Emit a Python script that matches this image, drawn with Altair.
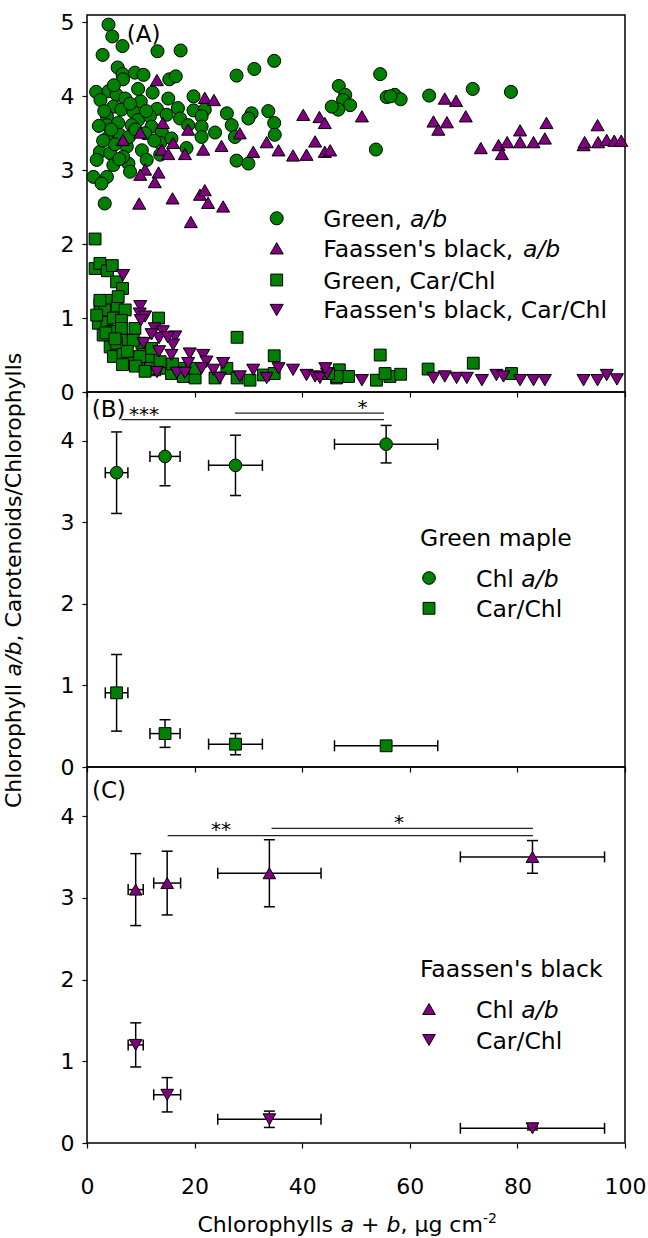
import altair as alt
import pandas as pd

FONT = "DejaVu Sans"
GREEN = "#008000"
PURPLE = "#800080"

# ---------------- Panel A: individual leaves ----------------
green_ab_x = [4.0, 4.7, 6.6, 2.9, 13.1, 17.4, 5.7, 6.6, 8.9, 10.5, 6.7, 15.3, 16.5, 27.8, 31.1, 34.8,
              1.7, 4.0, 5.5, 7.1, 10.0, 12.2, 15.1, 19.8, 4.9, 6.4, 8.6, 13.0, 16.9, 19.8, 21.9, 26.0,
              30.6, 33.7, 3.7, 9.5, 11.7, 14.8, 17.3, 21.3, 30.0, 34.8, 26.9, 3.7, 5.8, 8.3, 12.0, 18.8,
              21.3, 3.7, 6.1, 10.8, 13.9, 21.3, 23.8, 27.5, 34.9, 2.4, 4.3, 7.4, 10.2, 13.6, 15.7, 18.5,
              1.8, 4.9, 7.7, 11.1, 27.8, 30.0, 1.2, 3.7, 2.7, 3.3, 6.7, 8.0, 13.6,
              2.5, 3.2, 4.5, 5.2, 6.0, 7.8, 9.0, 2.2, 3.0, 5.0, 8.0, 9.5, 11.0, 12.5,
              46.8, 48.0, 47.6, 48.9, 46.7, 45.5, 54.5, 55.7, 57.2, 58.3, 56.4, 63.6, 71.7, 78.8, 53.7]
green_ab_y = [4.97, 4.81, 4.68, 4.56, 4.61, 4.62, 4.39, 4.30, 4.32, 4.29, 4.23, 4.23, 4.27, 4.28, 4.37, 4.48,
              4.06, 4.07, 4.02, 3.97, 3.93, 4.05, 3.97, 4.00, 3.86, 3.82, 3.79, 3.83, 3.84, 3.81, 3.82, 3.77,
              3.77, 3.80, 3.73, 3.68, 3.73, 3.75, 3.70, 3.73, 3.70, 3.64, 3.61, 3.61, 3.64, 3.61, 3.59, 3.61,
              3.59, 3.43, 3.48, 3.50, 3.52, 3.45, 3.51, 3.45, 3.48, 3.25, 3.23, 3.32, 3.27, 3.37, 3.43, 3.30,
              3.14, 3.07, 3.09, 3.14, 3.13, 3.09, 2.91, 2.91, 2.82, 2.55, 3.18, 2.98, 3.21,
              3.95, 3.80, 3.55, 3.35, 3.15, 3.45, 3.55, 3.60, 3.40, 4.15, 3.90, 4.10, 3.80, 3.40,
              4.14, 4.02, 3.95, 3.88, 3.82, 3.86, 4.30, 3.99, 4.02, 3.96, 4.00, 4.01, 4.10, 4.06, 3.28]

black_ab_x = [13.0, 21.9, 23.6, 14.1, 18.8, 28.4, 6.7, 9.9, 16.0, 25.0, 13.9, 15.1, 18.2, 21.6, 30.9, 33.4,
              35.6, 40.2, 43.2, 44.2, 38.3, 40.8, 42.4, 44.2, 45.2, 10.8, 9.9, 13.3, 12.6, 15.9, 21.0, 21.9,
              22.5, 25.3, 9.7, 19.3,
              51.1, 66.5, 68.6, 70.4, 64.4, 66.9, 65.3, 73.2, 76.5, 77.1, 78.1, 80.5, 80.5, 83.0, 85.1, 85.4,
              92.3, 92.5, 94.9, 95.0, 96.6, 98.0, 99.3]
black_ab_y = [4.22, 3.98, 3.95, 3.64, 3.55, 3.50, 3.41, 3.51, 3.37, 3.33, 3.28, 3.22, 3.22, 3.28, 3.25, 3.38,
              3.27, 3.75, 3.72, 3.64, 3.20, 3.21, 3.39, 3.25, 3.27, 3.01, 2.94, 2.97, 2.84, 2.62, 2.67, 2.73,
              2.56, 2.51, 2.55, 2.30,
              3.73, 3.97, 3.94, 3.73, 3.66, 3.65, 3.55, 3.30, 3.34, 3.22, 3.38, 3.54, 3.38, 3.38, 3.43, 3.64,
              3.34, 3.38, 3.61, 3.38, 3.41, 3.40, 3.40]

green_car_x = [1.5, 1.5, 2.4, 3.8, 4.7, 5.5, 6.6, 2.4, 4.1, 5.6, 7.1, 3.3, 2.1, 3.7, 4.9, 6.4, 13.3, 3.0,
               4.6, 6.4, 8.9, 7.4, 4.3, 5.5, 10.2, 4.9, 6.7, 8.3, 6.6, 10.5, 11.4, 12.0, 12.6, 14.8, 15.7,
               17.3, 17.9, 20.1, 20.1, 23.8, 26.0, 27.9, 27.9, 30.3, 32.8, 34.8, 34.8, 46.4, 5.8, 1.8, 2.4,
               8.6, 9.8, 11.8, 13.6, 15.9, 7.5, 9.0, 3.5, 5.2, 10.8,
               54.5, 71.8, 63.4, 46.9, 48.6, 46.5, 53.8, 56.3, 58.3, 55.4, 78.9, 44.9]
green_car_y = [2.07, 1.67, 1.74, 1.64, 1.71, 1.49, 1.40, 1.18, 1.24, 1.16, 1.11, 1.11, 0.93, 0.94, 1.00, 0.97,
               1.00, 0.77, 0.82, 0.86, 0.86, 0.70, 0.61, 0.66, 0.66, 0.48, 0.51, 0.41, 0.37, 0.51, 0.43, 0.59,
               0.30, 0.32, 0.25, 0.32, 0.21, 0.19, 0.32, 0.19, 0.32, 0.74, 0.19, 0.16, 0.23, 0.49, 0.25, 0.19,
               1.29, 1.04, 1.24, 0.70, 0.48, 0.32, 0.41, 0.38, 0.55, 0.35, 0.80, 0.72, 0.28,
               0.50, 0.39, 0.31, 0.30, 0.21, 0.21, 0.16, 0.21, 0.24, 0.25, 0.25, 0.25]

black_car_x = [6.7, 9.9, 9.8, 10.8, 10.0, 12.6, 14.1, 13.4, 16.4, 10.5, 16.0, 13.4, 19.1, 15.7, 21.6, 22.2,
               18.8, 25.3, 13.0, 16.7, 18.2, 21.3, 23.5, 24.7, 28.4, 30.9, 33.4, 35.6, 38.3, 40.8, 42.4,
               43.3, 44.6, 44.3, 12.0, 15.0,
               51.1, 64.4, 66.5, 68.7, 70.6, 73.4, 76.1, 77.4, 80.5, 83.0, 85.1, 92.3, 94.9, 96.6, 98.5]
black_car_y = [1.58, 1.16, 1.06, 1.02, 0.97, 0.86, 0.82, 0.73, 0.75, 0.66, 0.64, 0.55, 0.52, 0.50, 0.50, 0.41,
               0.39, 0.39, 0.27, 0.26, 0.26, 0.32, 0.30, 0.19, 0.21, 0.30, 0.19, 0.32, 0.30, 0.23, 0.21,
               0.19, 0.25, 0.32, 0.78, 0.74,
               0.16, 0.19, 0.21, 0.19, 0.19, 0.16, 0.23, 0.21, 0.16, 0.16, 0.16, 0.16, 0.16, 0.23, 0.17]

# ---------------- Panel B: green maple, class means ----------------
b_x = [5.5, 14.5, 27.6, 55.6]
b_xerr = [2.1, 2.8, 5.0, 9.6]
b_ab = [3.61, 3.81, 3.70, 3.96]
b_ab_err = [0.50, 0.36, 0.37, 0.23]
b_car = [0.91, 0.41, 0.28, 0.26]
b_car_err = [0.47, 0.17, 0.13, 0.03]
b_sig_from = [6.4, 27.5]
b_sig_to = [55.2, 55.2]
b_sig_y = [4.26, 4.34]
b_star_x = [10.6, 51.2]
b_star_y = [4.24, 4.33]
b_star_text = ["***", "*"]

# ---------------- Panel C: Faassen's black, class means ----------------
c_x = [9.05, 14.9, 33.9, 82.8]
c_xerr = [1.4, 2.5, 9.6, 13.4]
c_ab = [3.10, 3.18, 3.30, 3.50]
c_ab_err = [0.44, 0.39, 0.41, 0.20]
c_car = [1.20, 0.59, 0.29, 0.18]
c_car_err = [0.27, 0.21, 0.10, 0.02]
c_sig_from = [15.0, 34.3]
c_sig_to = [82.9, 82.9]
c_sig_y = [3.76, 3.85]
c_star_x = [24.9, 58.0]
c_star_y = [3.76, 3.84]
c_star_text = ["**", "*"]

x_ticks = [0, 20, 40, 60, 80, 100]

# ---------------- layout helpers ----------------
W = 538
HA, HB, HC = 377, 375, 376
ONE = pd.DataFrame({"v": [0]})

DV = {' ': 318, "'": 275, '(': 390, ')': 390, '*': 500, '+': 838, ',': 318, '-': 361, '/': 337,
      'A': 684, 'B': 686, 'C': 698, 'F': 575, 'G': 775,
      'a': 613, 'b': 635, 'c': 550, 'd': 635, 'e': 615, 'g': 635, 'h': 634, 'i': 278, 'k': 579,
      'l': 278, 'm': 974, 'n': 634, 'o': 612, 'p': 635, 'r': 411, 's': 521, 't': 392, 'y': 592,
      'μ': 636}


def tw(s, size):
    return sum(DV.get(ch, 636) for ch in s) / 1000.0 * size


def rich(segments, x, y, size, angle=0):
    """Mixed-style text: each segment drawn as its own text mark, placed one after another."""
    out = []
    off = 0.0
    for seg in segments:
        text, style = seg[0], seg[1]
        sz = seg[2] if len(seg) > 2 else size
        rise = seg[3] if len(seg) > 3 else 0
        core = text.strip(" ")
        lead = len(text) - len(text.lstrip(" "))
        if core:
            o = off + tw(" " * lead, sz)
            if angle == 0:
                px, py = x + o, y - rise
            else:
                px, py = x - rise, y - o
            out.append(alt.Chart(ONE).mark_text(text=core, font=FONT, fontSize=sz, fontStyle=style,
                                                align="left", baseline="alphabetic", angle=angle,
                                                color="black")
                       .encode(x=alt.value(px), y=alt.value(py)))
        off += tw(text, sz)
    return out


def marker(px, py, shape, color, size):
    return alt.Chart(ONE).mark_point(shape=shape, filled=True, fill=color, stroke="black",
                                     strokeWidth=1, size=size, opacity=1).encode(
        x=alt.value(px), y=alt.value(py))


XS = alt.Scale(domain=[0, 100], nice=False, zero=False)


def xaxis(show):
    return alt.Axis(values=x_ticks, labels=show, title=None, domain=False, grid=False,
                    tickSize=5, tickWidth=1.2, tickColor="black", labelFont=FONT,
                    labelFontSize=22, labelColor="black", labelPadding=28, labelFlush=False)


def yaxis(vals):
    return alt.Axis(values=vals, title=None, domain=False, grid=False, tickSize=5,
                    tickWidth=1.2, tickColor="black", labelFont=FONT, labelFontSize=22,
                    labelColor="black", labelPadding=8, labelFlush=False)


def scatter(xs, ys, shape, color, ysc, yax, xax, size):
    df = pd.DataFrame({"x": xs, "y": ys})
    return alt.Chart(df).mark_point(shape=shape, filled=True, fill=color, stroke="black",
                                    strokeWidth=1, size=size, opacity=1).encode(
        x=alt.X("x:Q", scale=XS, axis=xax), y=alt.Y("y:Q", scale=ysc, axis=yax))


def errbars(xs, ys, xerr, yerr, ysc, yax, xax):
    df = pd.DataFrame({"x": xs, "y": ys,
                       "xlo": [a - b for a, b in zip(xs, xerr)], "xhi": [a + b for a, b in zip(xs, xerr)],
                       "ylo": [a - b for a, b in zip(ys, yerr)], "yhi": [a + b for a, b in zip(ys, yerr)]})
    base = alt.Chart(df)
    X = lambda f: alt.X(f + ":Q", scale=XS, axis=xax)
    Y = lambda f: alt.Y(f + ":Q", scale=ysc, axis=yax)
    return [
        base.mark_rule(color="black", strokeWidth=1.5).encode(x=X("x"), y=Y("ylo"), y2="yhi:Q"),
        base.mark_rule(color="black", strokeWidth=1.5).encode(x=X("xlo"), x2="xhi:Q", y=Y("y")),
        base.mark_tick(orient="horizontal", size=11, thickness=1.5, color="black", opacity=1).encode(x=X("x"), y=Y("ylo")),
        base.mark_tick(orient="horizontal", size=11, thickness=1.5, color="black", opacity=1).encode(x=X("x"), y=Y("yhi")),
        base.mark_tick(orient="vertical", size=11, thickness=1.5, color="black", opacity=1).encode(x=X("xlo"), y=Y("y")),
        base.mark_tick(orient="vertical", size=11, thickness=1.5, color="black", opacity=1).encode(x=X("xhi"), y=Y("y")),
    ]


def significance(x1, x2, yv, sx, sy, stext, ysc, yax, xax):
    ldf = pd.DataFrame({"x1": x1, "x2": x2, "y": yv})
    sdf = pd.DataFrame({"x": sx, "y": sy, "t": stext})
    lines = alt.Chart(ldf).mark_rule(color="#222222", strokeWidth=1.3).encode(
        x=alt.X("x1:Q", scale=XS, axis=xax), x2="x2:Q", y=alt.Y("y:Q", scale=ysc, axis=yax))
    stars = alt.Chart(sdf).mark_text(font=FONT, fontSize=20, align="center", baseline="alphabetic",
                                     color="black").encode(
        x=alt.X("x:Q", scale=XS, axis=xax), y=alt.Y("y:Q", scale=ysc, axis=yax), text="t:N")
    return [lines, stars]


# ---------------- Panel A ----------------
YA = alt.Scale(domain=[0, 5.1], nice=False, zero=False)
yaxA = yaxis([0, 1, 2, 3, 4, 5])
xaxA = xaxis(False)
LEG = 23.5
layersA = [
    scatter(green_ab_x, green_ab_y, "circle", GREEN, YA, yaxA, xaxA, 170),
    scatter(black_ab_x, black_ab_y, "triangle-up", PURPLE, YA, yaxA, xaxA, 170),
    scatter(green_car_x, green_car_y, "square", GREEN, YA, yaxA, xaxA, 140),
    scatter(black_car_x, black_car_y, "triangle-down", PURPLE, YA, yaxA, xaxA, 170),
    marker(189.7, 203.3, "circle", GREEN, 170),
    marker(189.7, 233.3, "triangle-up", PURPLE, 170),
    marker(189.7, 265.0, "square", GREEN, 140),
    marker(189.7, 295.0, "triangle-down", PURPLE, 170),
]
layersA += rich([("Green, ", "normal"), ("a/b", "italic")], 236.3, 211.7, LEG)
layersA += rich([("Faassen's black, ", "normal"), ("a/b", "italic")], 236.3, 241.7, LEG)
layersA += rich([("Green, Car/Chl", "normal")], 236.3, 274.3, LEG)
layersA += rich([("Faassen's black, Car/Chl", "normal")], 236.3, 303.3, LEG)
layersA += rich([("(A)", "normal")], 39.7, 26.7, 23)
panelA = alt.layer(*layersA).properties(width=W, height=HA)

# ---------------- Panel B ----------------
YB = alt.Scale(domain=[0, 4.6], nice=False, zero=False)
yaxB = yaxis([0, 1, 2, 3, 4])
xaxB = xaxis(False)
layersB = []
layersB += significance(b_sig_from, b_sig_to, b_sig_y, b_star_x, b_star_y, b_star_text, YB, yaxB, xaxB)
layersB += errbars(b_x, b_ab, b_xerr, b_ab_err, YB, yaxB, xaxB)
layersB += errbars(b_x, b_car, b_xerr, b_car_err, YB, yaxB, xaxB)
layersB += [
    scatter(b_x, b_ab, "circle", GREEN, YB, yaxB, xaxB, 160),
    scatter(b_x, b_car, "square", GREEN, YB, yaxB, xaxB, 140),
    marker(342, 186, "circle", GREEN, 160),
    marker(342, 216.3, "square", GREEN, 140),
]
layersB += rich([("Green maple", "normal")], 333, 154, LEG)
layersB += rich([("Chl ", "normal"), ("a/b", "italic")], 389, 194.6, LEG)
layersB += rich([("Car/Chl", "normal")], 389, 224.9, LEG)
layersB += rich([("(B)", "normal")], 4.7, 24.7, 23)
# shared y-axis title, centred on the middle panel
layersB += rich([("Chlorophyll ", "normal"), ("a/b", "italic"),
                 (", Carotenoids/Chlorophylls", "normal")], -66, 416, 22, angle=270)
panelB = alt.layer(*layersB).properties(width=W, height=HB)

# ---------------- Panel C ----------------
YC = alt.Scale(domain=[0, 4.6], nice=False, zero=False)
yaxC = yaxis([0, 1, 2, 3, 4])
xaxC = xaxis(True)
layersC = []
layersC += significance(c_sig_from, c_sig_to, c_sig_y, c_star_x, c_star_y, c_star_text, YC, yaxC, xaxC)
layersC += errbars(c_x, c_ab, c_xerr, c_ab_err, YC, yaxC, xaxC)
layersC += errbars(c_x, c_car, c_xerr, c_car_err, YC, yaxC, xaxC)
layersC += [
    scatter(c_x, c_ab, "triangle-up", PURPLE, YC, yaxC, xaxC, 160),
    scatter(c_x, c_car, "triangle-down", PURPLE, YC, yaxC, xaxC, 160),
    marker(342, 242, "triangle-up", PURPLE, 160),
    marker(342, 273, "triangle-down", PURPLE, 160),
]
layersC += rich([("Faassen's black", "normal")], 333, 210, LEG)
layersC += rich([("Chl ", "normal"), ("a/b", "italic")], 389, 250.6, LEG)
layersC += rich([("Car/Chl", "normal")], 389, 281.6, LEG)
layersC += rich([("(C)", "normal")], 5, 31.3, 23)
layersC += rich([("Chlorophylls ", "normal"), ("a", "italic"), (" + ", "normal"), ("b", "italic"),
                 (", μg cm", "normal"), ("-2", "normal", 14, 9)], 110.5, 465, 22)
panelC = alt.layer(*layersC).properties(width=W, height=HC)

chart = alt.vconcat(panelA, panelB, panelC, spacing=0, bounds="flush").properties(
    padding={"left": 2, "top": 10, "right": 0, "bottom": 0},
    background="white",
).configure_view(stroke="black", strokeWidth=1.5)

chart.save("out.html", embed_options={"renderer": "svg", "actions": False})
